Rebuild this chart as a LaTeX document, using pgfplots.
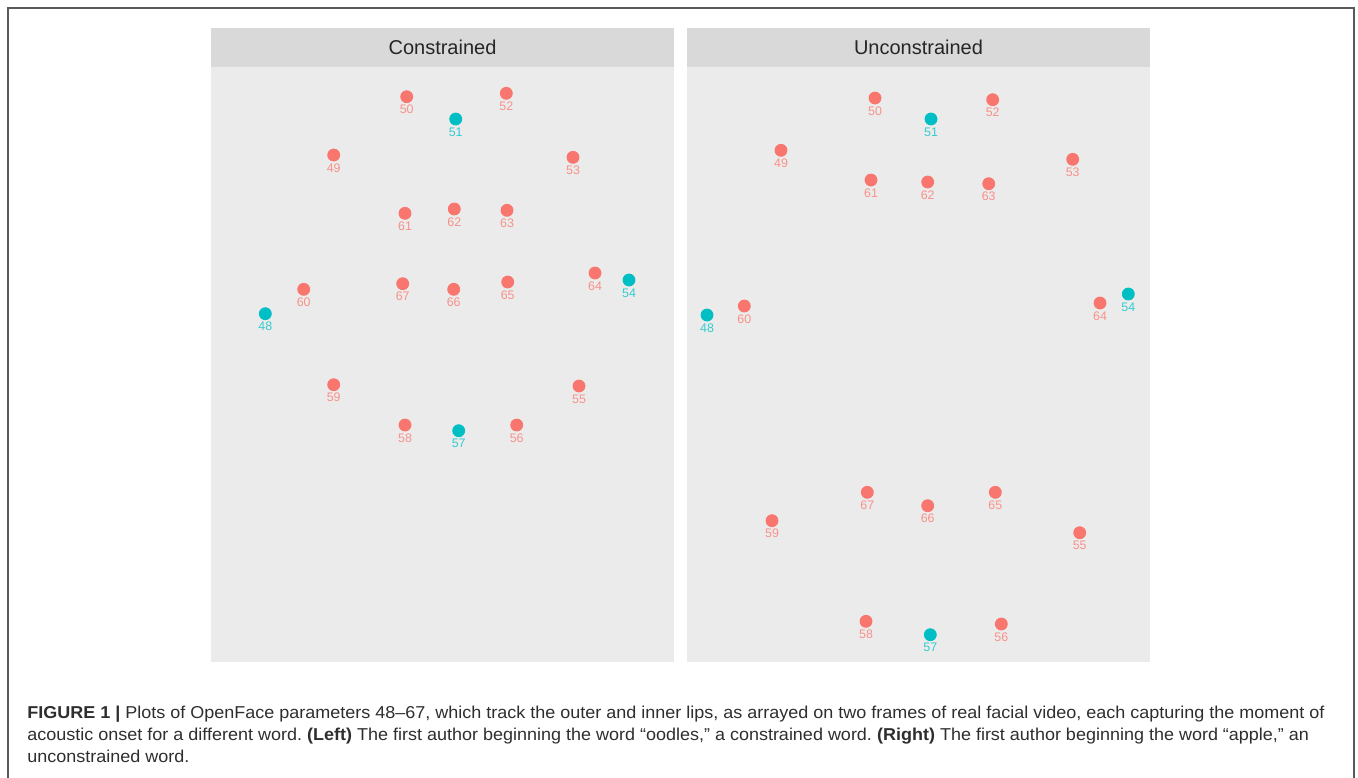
\documentclass[border=0pt]{standalone}
\usepackage{fontspec}
\setmainfont{Liberation Sans}
\newfontfamily\capfont[FakeStretch=1.046]{Liberation Sans}
\usepackage{pgfplots}
\usepackage{pgfplotstable}
\pgfplotsset{compat=1.18}
\definecolor{ggred}{HTML}{F8766D}
\definecolor{ggteal}{HTML}{00BFC4}
\definecolor{panelbg}{HTML}{EBEBEB}
\definecolor{stripbg}{HTML}{D9D9D9}
\definecolor{captxt}{HTML}{2E2E2E}
\frenchspacing

\pgfplotstableread{
lab x y
50 406.7 96.7
52 506.3 93.3
49 333.7 155
53 573 157.3
61 405 213.3
62 454.3 209
63 507 210.3
60 303.7 289.3
67 402.7 283.7
66 453.7 289.3
65 507.7 282
64 595 273
59 333.7 384.7
55 579 386
58 405 425
56 516.7 425
}\leftred
\pgfplotstableread{
lab x y
51 455.7 119
48 265.3 313.7
54 629 280
57 458.7 430.7
}\leftteal
\pgfplotstableread{
lab x y
50 875 98
52 992.7 99.7
49 781 150.3
53 1072.7 159.3
61 871 180
62 927.7 182
63 988.7 183.7
60 744.3 306
64 1100 303
67 867.3 492.3
66 927.7 505.7
65 995.3 492.3
59 772 520.7
55 1079.7 532.7
58 866 621.3
56 1001.3 624
}\rightred
\pgfplotstableread{
lab x y
51 931 119
48 707 315
54 1128.3 294
57 930.3 634.7
}\rightteal

\pgfplotsset{
  panel/.style={
    scale only axis, width=231.5pt, height=297.5pt,
    anchor=north west,
    ymin=67, ymax=662, y dir=reverse,
    axis background/.style={fill=panelbg},
    axis line style={draw=none}, ticks=none,
    clip=false,
  },
  pts/.style={
    only marks, mark=*, mark size=3pt,
    mark options={draw=#1, fill=#1},
    point meta=explicit symbolic,
    nodes near coords={\pgfplotspointmeta},
    every node near coord/.append style={anchor=center, yshift=-6.4pt,
      font=\fontsize{6.2}{7}\selectfont, text=#1!80!white, inner sep=0pt},
  },
}

\begin{document}
\begin{tikzpicture}[x=0.5pt, y=-0.5pt]
\useasboundingbox (0,0) rectangle (1358,777);
% outer frame
\draw[line width=0.7pt, color=black!65] (8,790) -- (8,8) -- (1354,8) -- (1354,790);
% strips
\fill[stripbg] (211,28) rectangle (674,67);
\fill[stripbg] (687,28) rectangle (1150,67);
\node[font=\fontsize{10}{12}\selectfont, text=black!85] at (442.5,47.5) {Constrained};
\node[font=\fontsize{10}{12}\selectfont, text=black!85] at (918.5,47.5) {Unconstrained};

\begin{axis}[panel, at={(211,67)}, xmin=211, xmax=674]
\addplot[pts=ggred] table[x=x, y=y, meta=lab] {\leftred};
\addplot[pts=ggteal] table[x=x, y=y, meta=lab] {\leftteal};
\end{axis}

\begin{axis}[panel, at={(687,67)}, xmin=687, xmax=1150]
\addplot[pts=ggred] table[x=x, y=y, meta=lab] {\rightred};
\addplot[pts=ggteal] table[x=x, y=y, meta=lab] {\rightteal};
\end{axis}

% caption
\begin{scope}[every node/.style={anchor=base west, inner sep=0pt, text=captxt, font=\capfont\fontsize{8.6}{10}\selectfont}]
\node at (27,718) {\textbf{FIGURE 1 |} Plots of OpenFace parameters 48–67, which track the outer and inner lips, as arrayed on two frames of real facial video, each capturing the moment of};
\node at (27,740) {acoustic onset for a different word. \textbf{(Left)} The first author beginning the word “oodles,” a constrained word. \textbf{(Right)} The first author beginning the word “apple,” an};
\node at (27,762) {unconstrained word.};
\end{scope}
\end{tikzpicture}
\end{document}
